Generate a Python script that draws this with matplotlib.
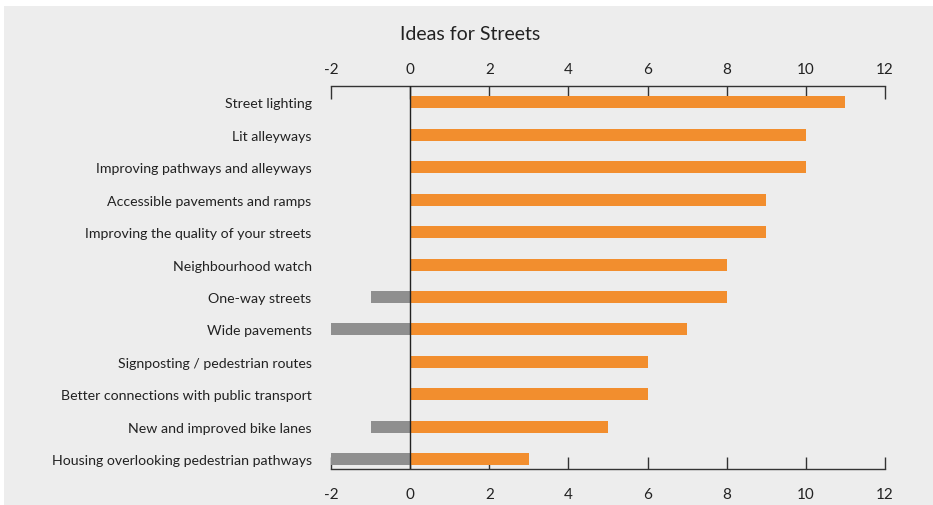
import matplotlib.pyplot as plt
from matplotlib.patches import Rectangle
from matplotlib.transforms import ScaledTranslation

plt.rcParams['font.family'] = ['Lato', 'DejaVu Sans']

ideas = ['Street lighting', 'Lit alleyways', 'Improving pathways and alleyways',
         'Accessible pavements and ramps', 'Improving the quality of your streets',
         'Neighbourhood watch', 'One-way streets', 'Wide pavements',
         'Signposting / pedestrian routes', 'Better connections with public transport',
         'New and improved bike lanes', 'Housing overlooking pedestrian pathways']
positive = [11, 10, 10, 9, 9, 8, 8, 7, 6, 6, 5, 3]
negative = [0, 0, 0, 0, 0, 0, -1, -2, 0, 0, -1, -2]
ticks = [-2, 0, 2, 4, 6, 8, 10, 12]

fig = plt.figure(figsize=(9.33, 5.06), dpi=100)
fig.patch.set_facecolor('white')
# grey panel with a thin white margin on the top and left
fig.patches.append(Rectangle((4 / 933, -0.1), 1.1, 1.1 - 7 / 506, transform=fig.transFigure,
                             facecolor='#ededed', edgecolor='none', zorder=-10))

ax = fig.add_axes([331 / 933, 1 - 470 / 506, (885 - 331) / 933, (470 - 87) / 506])
ax.set_facecolor('none')

y = list(range(len(ideas)))
ax.barh(y, positive, height=0.37, color='#f28e2e', zorder=2)
ax.barh(y, negative, height=0.37, color='#8f8f8f', zorder=2)
ax.axvline(0, color='#222222', linewidth=1.0, zorder=3)

ax.set_xlim(-2, 12)
ax.set_ylim(11.3, -0.5)
ax.set_xticks(ticks)
ax.set_xticklabels([str(t) for t in ticks])
ax.set_yticks(y)
ax.set_yticklabels(ideas)

for side in ['left', 'right']:
    ax.spines[side].set_visible(False)
for side in ['top', 'bottom']:
    ax.spines[side].set_color('#333333')
    ax.spines[side].set_linewidth(1.0)

ax.tick_params(axis='x', which='both', top=True, bottom=True, labeltop=True, labelbottom=True,
               direction='in', length=9, width=1.0, color='#333333', pad=7,
               labelsize=11, labelcolor='#222222')
ax.tick_params(axis='y', length=0, pad=14, labelsize=10.2, labelcolor='#222222')

# push the bottom tick labels a little further down
shift = ScaledTranslation(0, -6 / 72, fig.dpi_scale_trans)
for tick in ax.xaxis.get_major_ticks():
    tick.label1.set_transform(tick.label1.get_transform() + shift)

fig.text(470 / 933, 1 - 34 / 506, 'Ideas for Streets', ha='center', va='center',
         fontsize=14, color='#222222')

fig.savefig('out.png', dpi=100, facecolor=fig.get_facecolor())
